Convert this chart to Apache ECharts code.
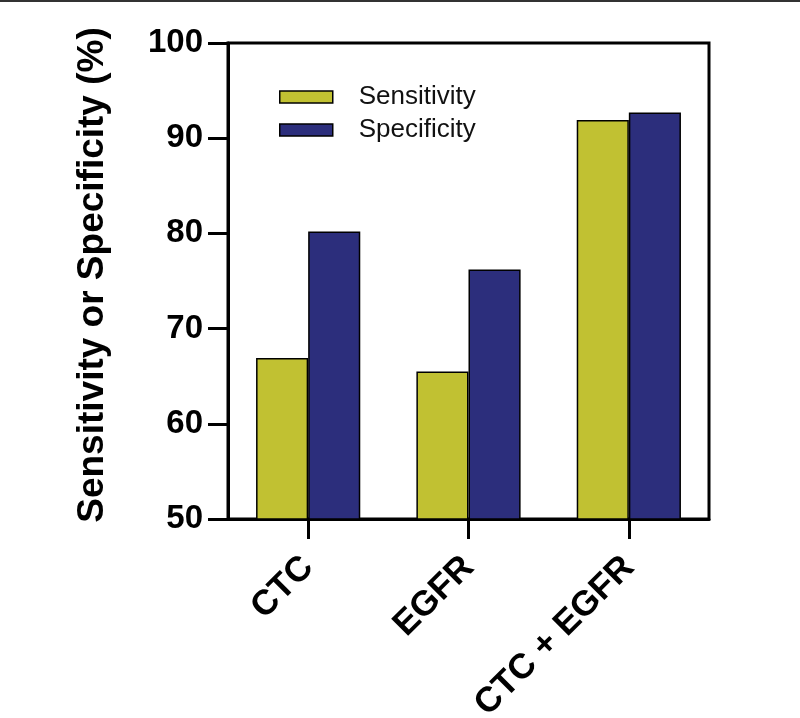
<!DOCTYPE html>
<html>
<head>
<meta charset="utf-8">
<script src="https://cdn.jsdelivr.net/npm/echarts@6/dist/echarts.min.js"></script>
<style>html,body{margin:0;padding:0;background:#fff;}#c{width:800px;height:718px;}</style>
</head>
<body>
<div id="c"></div>
<script>
const categories = ['CTC', 'EGFR', 'CTC + EGFR'];
const sensitivity = [66.9, 65.5, 91.9];
const specificity = [80.2, 76.2, 92.7];
const yTicks = [50, 60, 70, 80, 90, 100];
const seriesNames = ['Sensitivity', 'Specificity'];

const chart = echarts.init(document.getElementById('c'), null, {renderer: 'canvas'});
const FONT = '"Liberation Sans", Arial, Helvetica, sans-serif';
const axisLine = {show: true, lineStyle: {color: '#000', width: 3}};
chart.setOption({
  backgroundColor: '#fff',
  animation: false,
  graphic: [{type: 'rect', left: 0, top: 0, shape: {width: 800, height: 2}, style: {fill: '#333'}}],
  grid: {left: 228, right: 91, top: 43, bottom: 199, outerBoundsMode: 'none', containLabel: false,
         show: true, borderColor: '#000', borderWidth: 3},
  legend: {
    orient: 'vertical', left: 274, top: 79, itemWidth: 53, itemHeight: 12, itemGap: 7,
    icon: 'rect',
    itemStyle: {borderColor: '#000', borderWidth: 1.5},
    textStyle: {fontFamily: FONT, fontSize: 26, color: '#111', lineHeight: 26, padding: [0, 0, 0, 21]},
    data: seriesNames
  },
  xAxis: {
    type: 'category', data: categories,
    axisLine: axisLine,
    axisTick: {show: true, alignWithLabel: true, length: 20, lineStyle: {color: '#000', width: 3}},
    axisLabel: {rotate: 45, margin: 43, fontFamily: FONT, fontSize: 35, fontWeight: 'bold', color: '#000'}
  },
  yAxis: {
    type: 'value', min: yTicks[0], max: yTicks[yTicks.length - 1], interval: 10,
    name: 'Sensitivity or Specificity (%)', nameLocation: 'middle', nameGap: 117,
    nameTextStyle: {fontFamily: FONT, fontSize: 37, fontWeight: 'bold', color: '#000', padding: [0, 0, 0, 12]},
    axisLine: axisLine,
    axisTick: {show: true, length: 20, lineStyle: {color: '#000', width: 3}},
    splitLine: {show: false},
    axisLabel: {margin: 25, fontFamily: FONT, fontSize: 33, fontWeight: 'bold', color: '#000'}
  },
  series: [
    {name: seriesNames[0], type: 'bar', data: sensitivity, barGap: '0%', barCategoryGap: '35%',
     itemStyle: {color: '#c1c132', borderColor: '#000', borderWidth: 1.5}},
    {name: seriesNames[1], type: 'bar', data: specificity, barGap: '0%', barCategoryGap: '35%',
     itemStyle: {color: '#2c2e7c', borderColor: '#000', borderWidth: 1.5}}
  ]
});
</script>
</body>
</html>
